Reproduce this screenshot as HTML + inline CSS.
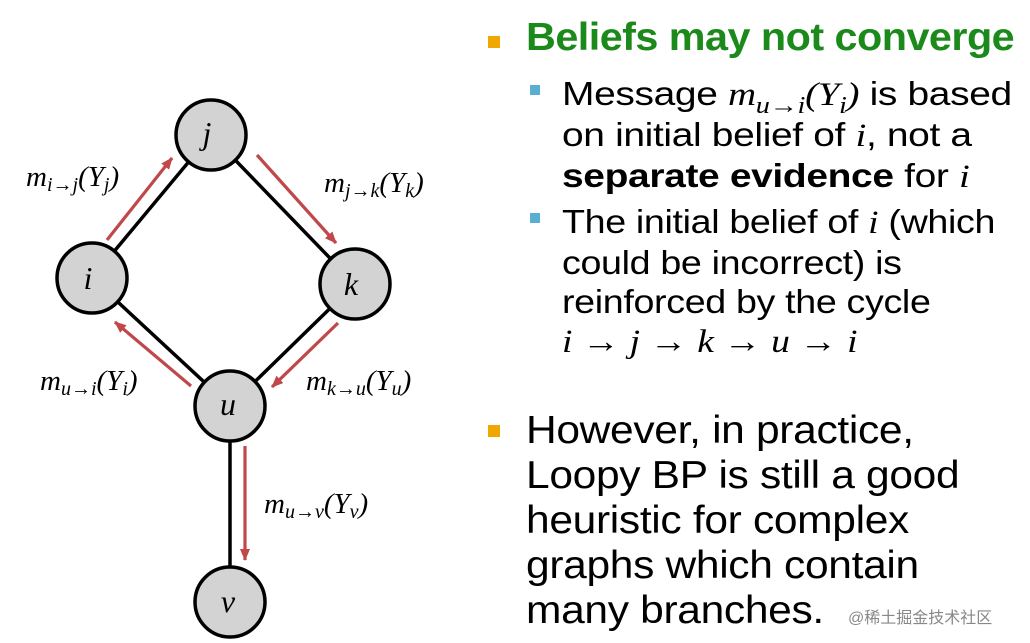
<!DOCTYPE html>
<html><head><meta charset="utf-8"><style>
body{margin:0;width:1030px;height:643px;background:#fff;overflow:hidden;position:relative;font-family:"Liberation Sans","Noto Sans CJK SC",sans-serif}
.t{position:absolute;white-space:nowrap;color:#000}
.m{font-family:"Liberation Serif",serif;font-style:italic}
.sq{position:absolute}
</style></head><body>
<svg width="1030" height="643" style="position:absolute;left:0;top:0">
<defs>
<marker id="b" markerWidth="12" markerHeight="10" refX="11" refY="5" orient="auto" markerUnits="userSpaceOnUse"><path d="M0,0 L12,5 L0,10 Z" fill="#c0474a"/></marker></defs>
<g stroke="#000" stroke-width="3.5">
<line x1="92" y1="278" x2="211" y2="135"/><line x1="211" y1="135" x2="355" y2="284"/>
<line x1="92" y1="278" x2="230" y2="406"/><line x1="355" y1="284" x2="230" y2="406"/>
<line x1="230" y1="406" x2="230" y2="602"/></g>
<g stroke="#c0474a" stroke-width="3.2" marker-end="url(#b)">
<line x1="107" y1="240" x2="172" y2="158"/>
<line x1="257" y1="155" x2="336" y2="243"/>
<line x1="338" y1="323" x2="272" y2="387"/>
<line x1="191" y1="386" x2="115" y2="322"/>
<line x1="245" y1="446" x2="245" y2="560"/></g>
<g fill="#d3d3d3" stroke="#000" stroke-width="3.5">
<circle cx="211" cy="135" r="35"/><circle cx="92" cy="278" r="35"/><circle cx="355" cy="284" r="35"/><circle cx="230" cy="406" r="35"/><circle cx="230" cy="602" r="35"/></g>
<g font-family="Liberation Serif" font-style="italic" font-size="32" text-anchor="middle">
<text x="207" y="144">j</text><text x="88" y="289">i</text><text x="351" y="295">k</text><text x="228" y="415">u</text><text x="228" y="612">v</text></g>
<g font-family="Liberation Serif" font-style="italic" font-size="29">
<text x="26" y="186">m<tspan font-size="20" dy="5">i→j</tspan><tspan dy="-5">(Y</tspan><tspan font-size="20" dy="5">j</tspan><tspan dy="-5">)</tspan></text>
<text x="324" y="192">m<tspan font-size="20" dy="5">j→k</tspan><tspan dy="-5">(Y</tspan><tspan font-size="20" dy="5">k</tspan><tspan dy="-5">)</tspan></text>
<text x="40" y="390">m<tspan font-size="20" dy="5">u→i</tspan><tspan dy="-5">(Y</tspan><tspan font-size="20" dy="5">i</tspan><tspan dy="-5">)</tspan></text>
<text x="306" y="390">m<tspan font-size="20" dy="5">k→u</tspan><tspan dy="-5">(Y</tspan><tspan font-size="20" dy="5">u</tspan><tspan dy="-5">)</tspan></text>
<text x="264" y="513">m<tspan font-size="20" dy="5">u→v</tspan><tspan dy="-5">(Y</tspan><tspan font-size="20" dy="5">v</tspan><tspan dy="-5">)</tspan></text>
</g>
</svg>
<div class="sq" style="left:488px;top:36px;width:12px;height:12px;background:#f0a800"></div>
<div class="t" style="left:526px;top:16px;font-size:39px;font-weight:bold;color:#1b8a1b;letter-spacing:-0.5px;transform:scaleX(1.06);transform-origin:0 0">Beliefs may not converge</div>
<div class="sq" style="left:530px;top:85px;width:10px;height:10px;background:#5aaed0"></div>
<div class="sq" style="left:530px;top:213px;width:10px;height:10px;background:#5aaed0"></div>
<div style="position:absolute;left:562px;top:74px;font-size:33px;line-height:39px;white-space:nowrap;letter-spacing:-0.3px;transform:scaleX(1.18);transform-origin:0 0">
Message <span class="m">m<sub style="font-size:24px;vertical-align:-8px;line-height:0">u→i</sub>(Y<sub style="font-size:24px;vertical-align:-8px;line-height:0">i</sub>)</span> is based<br>
on initial belief of <span class="m">i</span>, not a<br>
<b>separate evidence</b> for <span class="m">i</span></div>
<div style="position:absolute;left:562px;top:202px;font-size:33px;line-height:39px;white-space:nowrap;letter-spacing:-0.3px;transform:scaleX(1.14);transform-origin:0 0">
The initial belief of <span class="m">i</span> (which<br>could be incorrect) is<br>reinforced by the cycle<br>
<span class="m">i</span> → <span class="m">j</span> → <span class="m">k</span> → <span class="m">u</span> → <span class="m">i</span></div>
<div class="sq" style="left:488px;top:425px;width:12px;height:12px;background:#f0a800"></div>
<div style="position:absolute;left:526px;top:408px;font-size:39px;line-height:45px;white-space:nowrap;letter-spacing:-0.3px;transform:scaleX(1.09);transform-origin:0 0">
However, in practice,<br>Loopy BP is still a good<br>heuristic for complex<br>graphs which contain<br>many branches.</div>
<div class="t" style="left:848px;top:604px;font-size:16px;color:#888">@稀土掘金技术社区</div>
</body></html>
